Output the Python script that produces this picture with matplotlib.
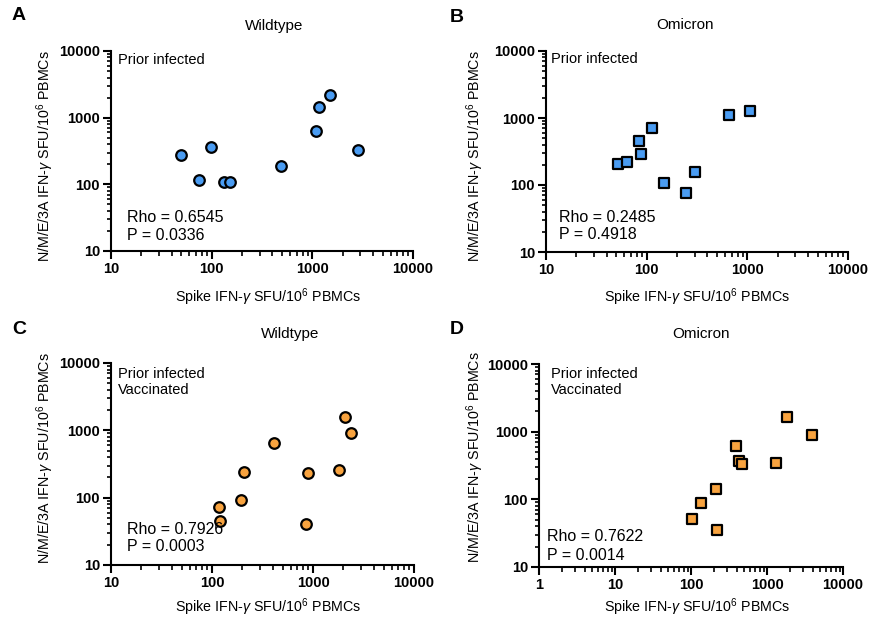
import numpy as np
import matplotlib
matplotlib.use("Agg")
import matplotlib.pyplot as plt
from matplotlib.ticker import LogLocator, NullFormatter

plt.rcParams['font.family'] = ['Liberation Sans', 'DejaVu Sans']
plt.rcParams['mathtext.fontset'] = 'custom'
plt.rcParams['mathtext.rm'] = 'Liberation Sans'
plt.rcParams['mathtext.it'] = 'Liberation Sans:italic'

# Dane
a_spike = [49.5, 75, 99, 132, 151, 489, 1087, 1156, 1510, 2818]
a_nme = [275, 115, 363, 108, 107, 190, 631, 1429, 2188, 327]

b_spike = [52, 64, 84, 88.5, 113, 147, 244, 302, 653, 1062]
b_nme = [206, 220, 454, 294, 701, 108, 76, 156, 1109, 1270]

c_spike = [116, 119, 195, 206, 414, 853, 891, 1795, 2075, 2377]
c_nme = [73, 44.6, 91, 240, 649, 40.6, 232, 261, 1578, 923]

d_spike = [104, 137, 211, 222, 396, 425, 475, 1307, 1827, 3943]
d_nme = [52, 88, 144, 35, 607, 369, 329, 340, 1667, 883]

panels = ['A', 'B', 'C', 'D']
titles = ['Wildtype', 'Omicron', 'Wildtype', 'Omicron']
groups = ['Prior infected', 'Prior infected',
          'Prior infected\nVaccinated', 'Prior infected\nVaccinated']
rho_txt = ['Rho = 0.6545', 'Rho = 0.2485', 'Rho = 0.7926', 'Rho = 0.7622']
p_txt = ['P = 0.0336', 'P = 0.4918', 'P = 0.0003', 'P = 0.0014']
x_ticks = [[10, 100, 1000, 10000]] * 3 + [[1, 10, 100, 1000, 10000]]
y_ticks = [10, 100, 1000, 10000]

blue = '#4a9cf2'
orange = '#f8a33f'

W, H = 871, 619
fig = plt.figure(figsize=(W / 100, H / 100), dpi=100)

def px_axes(left, right, top, bottom):
    return fig.add_axes([left / W, 1 - bottom / H, (right - left) / W, (bottom - top) / H])

# pozycje osi w pikselach
boxes = [(111, 413, 51, 251), (546, 848, 51, 252), (111, 414, 363, 565), (539, 843, 364, 567)]
xs = [a_spike, b_spike, c_spike, d_spike]
ys = [a_nme, b_nme, c_nme, d_nme]
colors = [blue, blue, orange, orange]
markers = ['o', 's', 'o', 's']
group_pos = [(0.023, 0.99), (0.017, 0.995), (0.023, 0.98), (0.04, 0.985)]
rho_pos = [(0.053, 0.17, 0.075), (0.043, 0.17, 0.085), (0.053, 0.178, 0.094), (0.026, 0.148, 0.059)]
title_pos = [(274, 26), (685, 25), (290, 334), (701, 334)]
letter_pos = [(12, 16), (450, 17), (12, 329), (450, 329)]
ylab_pos = [(45, 156), (475, 156), (45, 458), (475, 457)]
xlab_pos = [(268, 297), (697, 297), (268, 607), (697, 607)]

for i in range(4):
    ax = px_axes(*boxes[i])
    ax.set_xscale('log')
    ax.set_yscale('log')
    ax.scatter(xs[i], ys[i], s=58, marker=markers[i], facecolor=colors[i],
               edgecolor='black', linewidth=1.6, zorder=3, clip_on=False)
    ax.set_xlim(x_ticks[i][0], x_ticks[i][-1])
    ax.set_ylim(10, 10000)
    for s in ['top', 'right']:
        ax.spines[s].set_visible(False)
    for s in ['left', 'bottom']:
        ax.spines[s].set_linewidth(1.5)
    ax.set_xticks(x_ticks[i])
    ax.set_xticklabels([str(t) for t in x_ticks[i]], fontweight='bold', fontsize=10.5)
    ax.set_yticks(y_ticks)
    ax.set_yticklabels([str(t) for t in y_ticks], fontweight='bold', fontsize=10.5)
    ax.xaxis.set_minor_locator(LogLocator(base=10, subs=np.arange(2, 10)))
    ax.yaxis.set_minor_locator(LogLocator(base=10, subs=np.arange(2, 10)))
    ax.xaxis.set_minor_formatter(NullFormatter())
    ax.yaxis.set_minor_formatter(NullFormatter())
    ax.tick_params(which='major', length=6, width=1.5, pad=2)
    ax.tick_params(which='minor', length=3.5, width=1.2)
    ax.tick_params(axis='y', which='minor', length=3)

    ax.text(group_pos[i][0], group_pos[i][1], groups[i], transform=ax.transAxes,
            ha='left', va='top', fontsize=10.5, linespacing=1.2)
    rx, ry, py = rho_pos[i]
    ax.text(rx, ry, rho_txt[i], transform=ax.transAxes, ha='left', va='center', fontsize=11.5)
    ax.text(rx, py, p_txt[i], transform=ax.transAxes, ha='left', va='center', fontsize=11.5)

    fig.text(title_pos[i][0] / W, 1 - title_pos[i][1] / H, titles[i],
             ha='center', va='center', fontsize=11)
    fig.text(letter_pos[i][0] / W, 1 - letter_pos[i][1] / H, panels[i],
             ha='left', va='center', fontsize=14, fontweight='bold')
    fig.text(ylab_pos[i][0] / W, 1 - ylab_pos[i][1] / H,
             r'N/M/E/3A IFN-$\it{\gamma}$ SFU/10$^{6}$ PBMCs',
             ha='center', va='center', rotation=90, fontsize=10.3)
    fig.text(xlab_pos[i][0] / W, 1 - xlab_pos[i][1] / H,
             r'Spike IFN-$\it{\gamma}$ SFU/10$^{6}$ PBMCs',
             ha='center', va='center', fontsize=10.3)

fig.savefig('out.png', dpi=100, facecolor='white')
